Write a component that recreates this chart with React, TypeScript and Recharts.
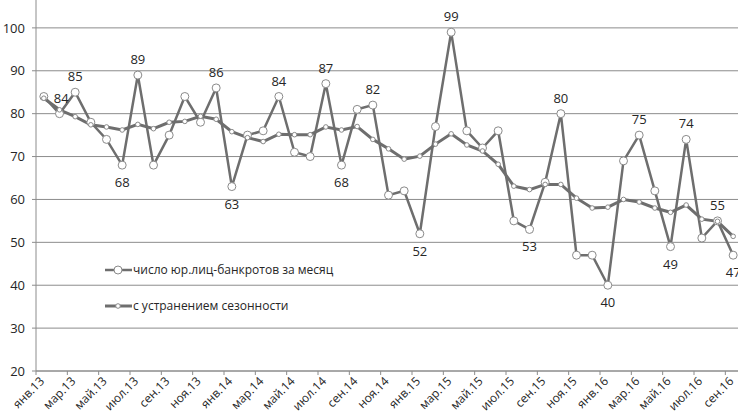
import { LineChart, Line, XAxis, YAxis, CartesianGrid } from 'recharts';

const months = [
  'янв.13', 'фев.13', 'мар.13', 'апр.13', 'май.13', 'июн.13', 'июл.13', 'авг.13', 'сен.13', 'окт.13', 'ноя.13', 'дек.13',
  'янв.14', 'фев.14', 'мар.14', 'апр.14', 'май.14', 'июн.14', 'июл.14', 'авг.14', 'сен.14', 'окт.14', 'ноя.14', 'дек.14',
  'янв.15', 'фев.15', 'мар.15', 'апр.15', 'май.15', 'июн.15', 'июл.15', 'авг.15', 'сен.15', 'окт.15', 'ноя.15', 'дек.15',
  'янв.16', 'фев.16', 'мар.16', 'апр.16', 'май.16', 'июн.16', 'июл.16', 'авг.16', 'сен.16',
];

// число юр.лиц-банкротов за месяц
const monthly = [
  84, 80, 85, 78, 74, 68, 89, 68, 75, 84, 78, 86,
  63, 75, 76, 84, 71, 70, 87, 68, 81, 82, 61, 62,
  52, 77, 99, 76, 72, 76, 55, 53, 64, 80, 47, 47,
  40, 69, 75, 62, 49, 74, 51, 55, 47,
];

// с устранением сезонности
const seasonal = [
  83.6, 80.9, 79.3, 77.4, 76.9, 76.2, 77.5, 76.5, 78.0, 78.2, 79.4, 78.7,
  75.8, 74.4, 73.5, 75.2, 75.1, 75.1, 76.9, 76.2, 77.0, 74.0, 71.8, 69.4,
  70.1, 72.9, 75.3, 72.7, 71.3, 68.2, 63.1, 62.3, 63.5, 63.5, 60.3, 58.0,
  58.2, 60.0, 59.4, 58.0, 57.0, 58.7, 55.4, 54.9, 51.4,
];

const seriesNames = ['число юр.лиц-банкротов за месяц', 'с устранением сезонности'];
const yTicks = [20, 30, 40, 50, 60, 70, 80, 90, 100, 110];

// which points of the monthly series carry a value label, and where
const labelIdx = [0, 2, 5, 6, 11, 12, 15, 18, 19, 21, 24, 26, 31, 33, 36, 38, 40, 41, 43, 44];
const labelSide = ['right', 'up', 'down', 'up', 'up', 'down', 'up', 'up', 'down', 'up', 'down', 'up', 'down', 'up', 'down', 'up', 'down', 'up', 'up', 'down'];

const data = months.map((m, i) => ({ i, m, monthly: monthly[i], seasonal: seasonal[i] }));
const xTicks = months.map((_, i) => i - 0.5).filter((_, i) => i % 2 === 0);

const FONT = '"Open Sans", sans-serif';
const LINE = '#6e6e6e';
const MARK = '#8a8a8a';
const GRID = '#8c8c8c';
const TEXT = '#262626';

function XTick({ x, y, payload }: any) {
  const idx = Math.round(payload.value + 0.5);
  const tx = x + 9;
  const ty = y + 5;
  return (
    <text
      x={tx}
      y={ty}
      transform={`rotate(-45 ${tx} ${ty})`}
      textAnchor="end"
      fontSize={12}
      fill={TEXT}
      fontFamily={FONT}
    >
      {months[idx]}
    </text>
  );
}

function PointLabel({ x, y, index, value }: any) {
  const k = labelIdx.indexOf(index);
  if (k < 0) return null;
  const side = labelSide[k];
  let tx = x;
  let ty = y;
  let anchor = 'middle';
  if (side === 'up') ty = y - 11;
  if (side === 'down') ty = y + 22;
  if (side === 'right') {
    tx = x + 10;
    ty = y + 6;
    anchor = 'start';
  }
  return (
    <text x={tx} y={ty} textAnchor={anchor} fontSize={13} fill={TEXT} fontFamily={FONT}>
      {value}
    </text>
  );
}

export default function App() {
  return (
    <div
      style={{
        position: 'absolute',
        left: 0,
        top: 0,
        width: 738,
        height: 414,
        overflow: 'hidden',
        background: '#fff',
      }}
    >
      <div style={{ position: 'absolute', left: 0, top: -25 }}>
        <LineChart width={741} height={456} data={data} margin={{ top: 10, right: 0, left: 0, bottom: 0 }}>
          <CartesianGrid vertical={false} stroke={GRID} strokeWidth={1} />
          <XAxis
            dataKey="i"
            type="number"
            domain={[-0.5, 44.5]}
            ticks={xTicks}
            interval={0}
            height={60}
            stroke={GRID}
            tickSize={4}
            tickMargin={2}
            tick={<XTick />}
          />
          <YAxis
            domain={[20, 110]}
            ticks={yTicks}
            interval={0}
            width={36}
            stroke={GRID}
            tickSize={4}
            tickMargin={7}
            tickFormatter={(v: number) => (v > 100 ? '' : String(v))}
            tick={{ fontSize: 13, fill: TEXT, fontFamily: FONT }}
          />
          <Line
            dataKey="monthly"
            stroke={LINE}
            strokeWidth={2.5}
            dot={{ r: 4, fill: '#fff', stroke: MARK, strokeWidth: 1 }}
            label={<PointLabel />}
            isAnimationActive={false}
          />
          <Line
            dataKey="seasonal"
            stroke={LINE}
            strokeWidth={3}
            dot={{ r: 2.3, fill: '#fff', stroke: MARK, strokeWidth: 1 }}
            isAnimationActive={false}
          />
        </LineChart>
      </div>
      <div style={{ position: 'absolute', left: 100, top: 258 }}>
        <svg width={300} height={60}>
          <line x1={5} x2={32} y1={12} y2={12} stroke={LINE} strokeWidth={2.5} />
          <circle cx={18} cy={12} r={4} fill="#fff" stroke={MARK} strokeWidth={1} />
          <text x={33} y={16} fontSize={12} fill={TEXT} fontFamily={FONT}>
            {seriesNames[0]}
          </text>
          <line x1={5} x2={32} y1={48} y2={48} stroke={LINE} strokeWidth={3} />
          <circle cx={18} cy={48} r={2.3} fill="#fff" stroke={MARK} strokeWidth={1} />
          <text x={33} y={52} fontSize={12} fill={TEXT} fontFamily={FONT}>
            {seriesNames[1]}
          </text>
        </svg>
      </div>
    </div>
  );
}
